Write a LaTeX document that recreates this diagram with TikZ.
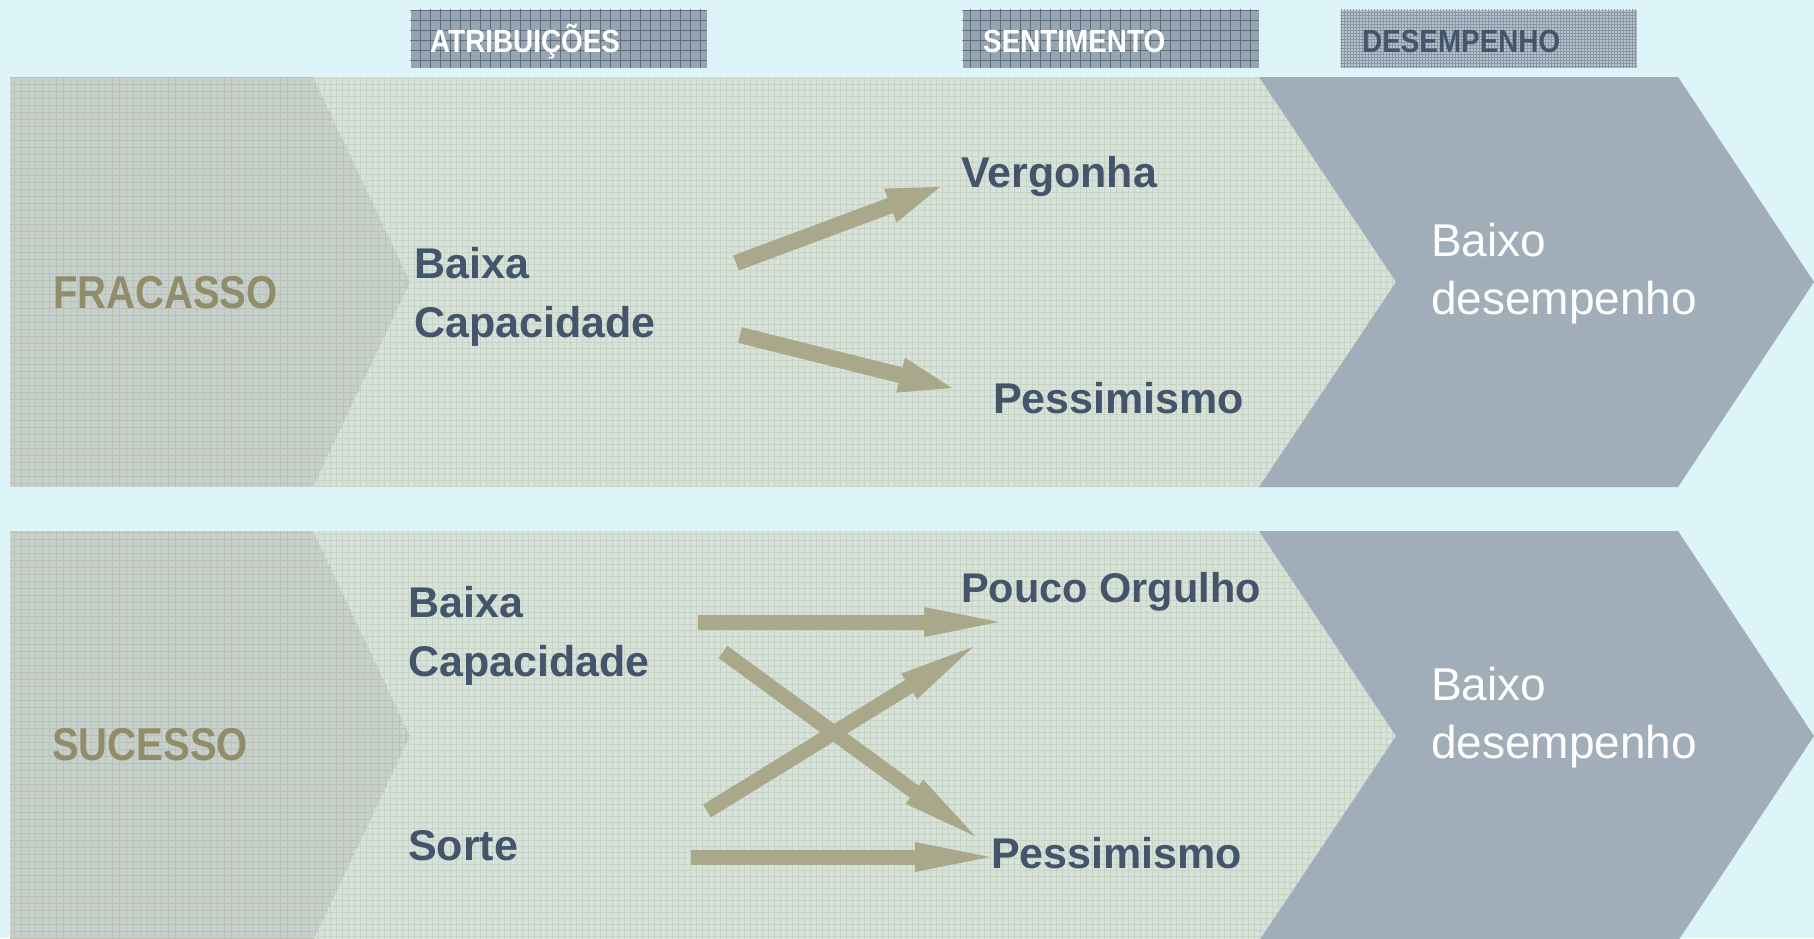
\documentclass[tikz,border=0pt]{standalone}
\usepackage{fontspec}
\setmainfont{Liberation Sans}
\newfontfamily\condfont[FakeStretch=0.87]{Liberation Sans}
\usetikzlibrary{arrows.meta}
\definecolor{bgc}{HTML}{DDF5F9}
\definecolor{darkc}{HTML}{C6D0CC}
\definecolor{darkline}{HTML}{B3B39C}
\definecolor{lightc}{HTML}{D4E3DE}
\definecolor{lightline}{HTML}{C3C7B2}
\definecolor{grayc}{HTML}{A2ADBA}
\definecolor{hdrc}{HTML}{96A5B1}
\definecolor{hdrline}{HTML}{5D6D7D}
\definecolor{hdrthree}{HTML}{B7C4CD}
\definecolor{hdrthreeline}{HTML}{8797A6}
\definecolor{txtc}{HTML}{44546A}
\definecolor{olivec}{HTML}{918D6A}
\definecolor{arrc}{HTML}{A9A88A}
\newcommand{\twolines}[2]{\vtop{\hbox{#1}\hbox{#2}}}
\tikzset{
  hdrbox/.style={fill=hdrc, draw=none, minimum width=296pt, minimum height=58pt, inner sep=0pt},
  hdrbox3/.style={fill=hdrthree, draw=none, minimum width=296pt, minimum height=58pt, inner sep=0pt},
  hdrtxt/.style={anchor=base west, inner sep=0pt, text=white, font=\condfont\bfseries\fontsize{32}{32}\selectfont},
  hdrtxtdark/.style={hdrtxt, text=txtc},
  maintxt/.style={anchor=base west, inner sep=0pt, text=txtc, font=\bfseries\fontsize{43}{59}\selectfont},
  olivetxt/.style={anchor=base west, inner sep=0pt, text=olivec, font=\condfont\bfseries\fontsize{46}{46}\selectfont},
  whitetxt/.style={anchor=base west, inner sep=0pt, text=white, font=\fontsize{46}{58}\selectfont},
  arrtop/.style={draw=arrc, line width=16pt, -{Triangle[length=53pt, width=36pt, line width=0pt 0 0]}},
  arrbot/.style={draw=arrc, line width=15pt, -{Triangle[length=75pt, width=30pt, line width=0pt 0 0]}},
}
\begin{document}
\begin{tikzpicture}[x=1pt,y=-1pt]
\useasboundingbox (0,0) rectangle (1814,938);
\fill[bgc] (0,0) rectangle (1814,938);

% ---- bands ----
\foreach \T/\B/\M in {77/487/282, 531/941/736}{
  % light middle band
  \begin{scope}
    \clip (10,\T) -- (1259,\T) -- (1396,\M) -- (1259,\B) -- (10,\B) -- cycle;
    \fill[lightc] (0,\T) rectangle (1400,\B);
    \draw[lightline, line width=0.8pt, opacity=0.6, step=6pt] (0,\T) grid (1400,\B);
  \end{scope}
  % darker left chevron
  \begin{scope}
    \clip (10,\T) -- (313,\T) -- (410,\M) -- (313,\B) -- (10,\B) -- cycle;
    \fill[darkc] (0,\T) rectangle (420,\B);
    \draw[darkline, line width=0.8pt, opacity=0.5, step=7pt] (0,\T) grid (420,\B);
  \end{scope}
  % grey right chevron
  \fill[grayc] (1259,\T) -- (1678,\T) -- (1814,\M) -- (1678,\B) -- (1259,\B) -- (1396,\M) -- cycle;
}

% ---- headers ----
\node[hdrbox] (h1) at (558.5,38.5) {};
\node[hdrbox] (h2) at (1110.5,38.5) {};
\node[hdrbox3] (h3) at (1488.5,38.5) {};
\begin{scope}
  \clip (h1.south west) rectangle (h1.north east);
  \draw[hdrline, line width=1pt, step=10pt] (h1.south west) grid (h1.north east);
\end{scope}
\begin{scope}
  \clip (h2.south west) rectangle (h2.north east);
  \draw[hdrline, line width=1pt, step=10pt] (h2.south west) grid (h2.north east);
\end{scope}
\begin{scope}
  \clip (h3.south west) rectangle (h3.north east);
  \draw[hdrthreeline, line width=0.5pt, step=3pt] (h3.south west) grid (h3.north east);
\end{scope}
\node[hdrtxt] (t1) at (430,52) {ATRIBUIÇÕES};
\node[hdrtxt] (t2) at (983,52) {SENTIMENTO};
\node[hdrtxtdark] (t3) at (1362,52) {DESEMPENHO};

% ---- top row: FRACASSO ----
\node[olivetxt] (fr) at (53,308) {FRACASSO};
\node[maintxt] (bc1) at (414,278) {\twolines{Baixa}{Capacidade}};
\node[maintxt] (verg) at (961,187) {Vergonha};
\node[maintxt] (pess1) at (993,413) {Pessimismo};
\node[whitetxt] (bd1) at (1431,256) {\twolines{Baixo}{desempenho}};

\coordinate (a1s) at (736,263);
\coordinate (a1e) at (940,187);
\coordinate (a2s) at (740,335);
\coordinate (a2e) at (952,388);
\draw[arrtop] (a1s) -- (a1e);
\draw[arrtop] (a2s) -- (a2e);

% ---- bottom row: SUCESSO ----
\node[olivetxt] (su) at (52,760) {SUCESSO};
\node[maintxt] (bc2) at (408,617) {\twolines{Baixa}{Capacidade}};
\node[maintxt] (sorte) at (408,860) {Sorte};
\node[maintxt, font=\bfseries\fontsize{41.5}{50}\selectfont] (po) at (961,602) {Pouco Orgulho};
\node[maintxt] (pess2) at (991,868) {Pessimismo};
\node[whitetxt] (bd2) at (1431,700) {\twolines{Baixo}{desempenho}};

\coordinate (a3s) at (698,622);
\coordinate (a3e) at (999,622);
\coordinate (a4s) at (707,811);
\coordinate (a4e) at (973,647);
\coordinate (a5s) at (723,652);
\coordinate (a5e) at (975,836);
\coordinate (a6s) at (691,857);
\coordinate (a6e) at (990,857);
\draw[arrbot] (a3s) -- (a3e);
\draw[arrbot] (a4s) -- (a4e);
\draw[arrbot] (a5s) -- (a5e);
\draw[arrbot] (a6s) -- (a6e);
\end{tikzpicture}
\end{document}
